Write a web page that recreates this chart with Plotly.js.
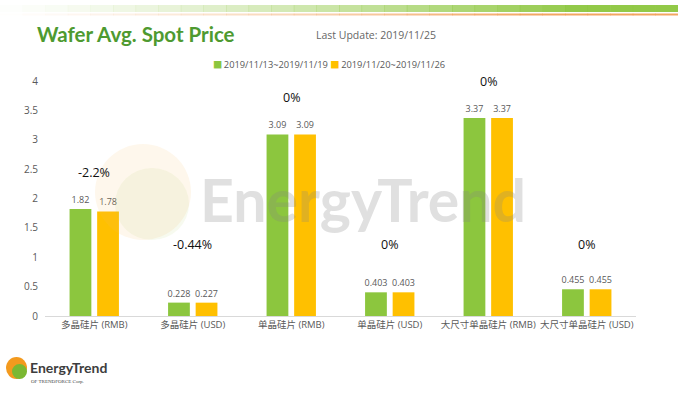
<!DOCTYPE html>
<html>
<head>
<meta charset="utf-8">
<script src="https://cdn.plot.ly/plotly-3.0.1.min.js"></script>
<style>html,body{margin:0;padding:0;background:#fff}#chart{width:678px;height:396px}</style>
</head>
<body>
<div id="chart"></div>
<script>
var categories = ['多晶硅片 (RMB)', '多晶硅片 (USD)', '单晶硅片 (RMB)', '单晶硅片 (USD)', '大尺寸单晶硅片 (RMB)', '大尺寸单晶硅片 (USD)'];
var seriesNames = ['2019/11/13~2019/11/19', '2019/11/20~2019/11/26'];
var week1 = [1.82, 0.228, 3.09, 0.403, 3.37, 0.455];
var week2 = [1.78, 0.227, 3.09, 0.403, 3.37, 0.455];
var changeLabels = ['-2.2%', '-0.44%', '0%', '0%', '0%', '0%'];
var yTicks = [0, 0.5, 1, 1.5, 2, 2.5, 3, 3.5, 4];

var FONT = 'Open Sans, Noto Sans CJK SC, sans-serif';
var GREEN = '#8cc63e', YELLOW = '#ffc000';
var colors = [GREEN, YELLOW];

var traces = [week1, week2].map(function(vals, s){
  return {type:'bar', name:seriesNames[s], x:categories, y:vals, marker:{color:colors[s]},
   text:vals.map(String), textposition:'outside', cliponaxis:false, constraintext:'none',
   textfont:{size:9, color:'#595959', family:FONT}};
});

var P = function(px){ return (px - 45) / 591; };
var Q = function(py){ return (316 - py) / 235; };

var annotations = categories.map(function(c, i){
  var top = Math.max(week1[i], week2[i]);
  return {x:c, y:Math.max(top + 0.63, 1.21), xref:'x', yref:'y', text:changeLabels[i],
          showarrow:false, font:{size:12.5, color:'#111', family:FONT}};
});
// legend (drawn as text so the swatch-to-label spacing matches)
annotations.push({xref:'paper', yref:'paper', x:P(211), y:Q(64), xanchor:'left', yanchor:'middle', showarrow:false,
  text:'<span style="color:' + GREEN + '">■</span>&#8201;' + seriesNames[0] + ' <span style="color:' + YELLOW + '">■</span>&#8201;' + seriesNames[1],
  font:{size:9.3, color:'#595959', family:FONT}});
// header text
annotations.push({xref:'paper', yref:'paper', x:P(314), y:Q(35), xanchor:'left', yanchor:'middle',
  text:'Last Update: 2019/11/25', showarrow:false, font:{size:10.5, color:'#666', family:FONT}});
// watermark
annotations.push({xref:'paper', yref:'paper', x:P(198), y:Q(199), xanchor:'left', yanchor:'middle',
  text:'<b>EnergyTrend</b>', showarrow:false, font:{size:59, color:'rgba(130,130,130,0.25)', family:'Lato'}});
// bottom logo
annotations.push({xref:'paper', yref:'paper', x:P(28), y:Q(367), xanchor:'left', yanchor:'middle',
  text:'<b>EnergyTrend</b>', showarrow:false, font:{size:14, color:'#3d3d3d', family:'Lato'}});
annotations.push({xref:'paper', yref:'paper', x:P(29), y:Q(381), xanchor:'left', yanchor:'middle',
  text:'OF TRENDFORCE Corp.', showarrow:false, font:{size:5, color:'#444', family:'Liberation Serif'}});

var shapes = [];
var N = 30;
for (var k = 0; k < N; k++) {
  var a = Math.min(1, Math.pow((k + 1) / N, 1.3) * 1.2);
  shapes.push({type:'rect', xref:'paper', yref:'paper', layer:'below',
    x0:P(k*678/N), x1:P((k+1)*678/N + 0.5), y0:Q(12), y1:Q(5), line:{width:0},
    fillcolor:'rgba(140,198,62,' + (a*0.95).toFixed(3) + ')'});
  shapes.push({type:'rect', xref:'paper', yref:'paper', layer:'below',
    x0:P(k*678/N), x1:P((k+1)*678/N + 0.5), y0:Q(15.5), y1:Q(13.5), line:{width:0},
    fillcolor:'rgba(240,150,70,' + (Math.min(1, a*1.1)*0.85).toFixed(3) + ')'});
}
// watermark circle
shapes.push({type:'circle', xref:'paper', yref:'paper', layer:'above',
  x0:P(95), x1:P(191), y0:Q(240), y1:Q(144), line:{width:0}, fillcolor:'rgba(250,190,100,0.12)'});
shapes.push({type:'circle', xref:'paper', yref:'paper', layer:'above',
  x0:P(115), x1:P(189), y0:Q(240), y1:Q(168), line:{width:0}, fillcolor:'rgba(175,210,100,0.10)'});
// bottom logo circle
shapes.push({type:'circle', xref:'paper', yref:'paper',
  x0:P(6), x1:P(27), y0:Q(379), y1:Q(357), line:{width:0}, fillcolor:'#f39a1e'});
shapes.push({type:'circle', xref:'paper', yref:'paper',
  x0:P(12), x1:P(27), y0:Q(379), y1:Q(364), line:{width:0}, fillcolor:'#7bb832'});

var layout = {
  width:678, height:396,
  margin:{l:45, r:42, t:81, b:80},
  paper_bgcolor:'#fff', plot_bgcolor:'rgba(0,0,0,0)',
  title:{text:'<b>Wafer Avg. Spot Price</b>', xref:'container', yref:'container', x:37/678, xanchor:'left',
         y:1-35/396, yanchor:'middle', font:{size:20.5, color:'#4e9a30', family:'Lato'}},
  barmode:'group', bargap:0.44, bargroupgap:0.21,
  showlegend:false,
  xaxis:{type:'category', showgrid:false, showline:true, linecolor:'#d9d9d9', linewidth:1, ticks:'', tickangle:0,
         tickfont:{size:9.5, color:'#595959', family:FONT}, fixedrange:true, automargin:false},
  yaxis:{range:[0,4], tickvals:yTicks, showgrid:false, zeroline:false, showline:false, ticks:'',
         tickfont:{size:10, color:'#595959', family:FONT}, ticklabelstandoff:6, fixedrange:true, automargin:false},
  annotations:annotations,
  shapes:shapes,
  font:{family:FONT}
};

Plotly.newPlot('chart', traces, layout, {displayModeBar:false, staticPlot:true});
</script>
</body>
</html>
